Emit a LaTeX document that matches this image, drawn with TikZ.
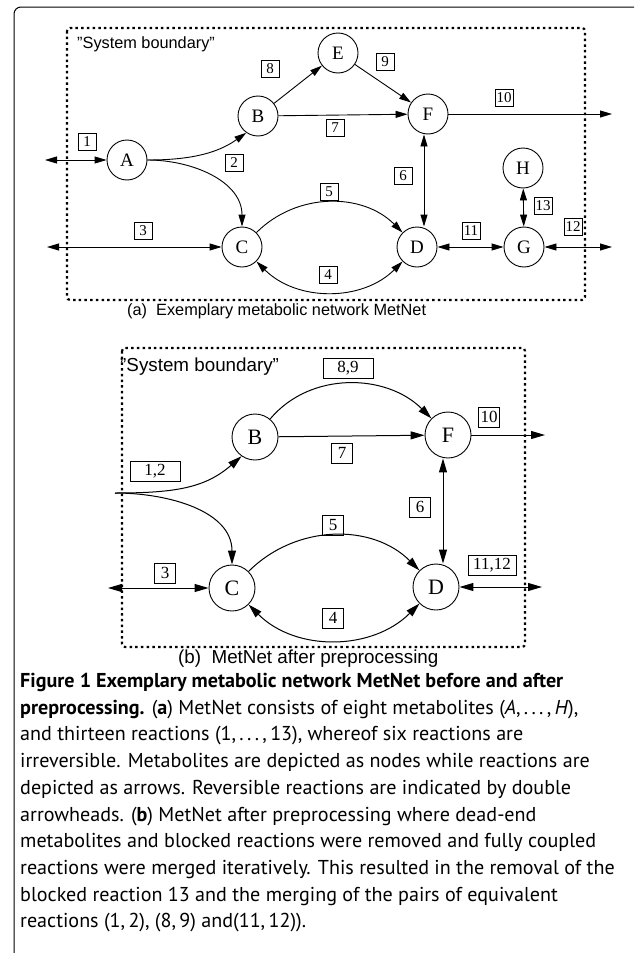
\documentclass[tikz,border=0pt]{standalone}
\usepackage{fontspec}
\setmainfont{Liberation Serif}
\setsansfont{Liberation Sans}
\newfontfamily\capfont{PT Sans}
\usetikzlibrary{arrows.meta}
\tikzset{
  met/.style={circle,draw,line width=0.9pt,minimum size=40pt,inner sep=0pt,font=\fontsize{19}{19}\selectfont},
  metb/.style={circle,draw,line width=0.9pt,minimum size=46pt,inner sep=0pt,font=\fontsize{22}{22}\selectfont},
  lab/.style={draw,line width=0.6pt,inner sep=1pt,minimum width=18pt,minimum height=17pt,font=\fontsize{15}{15}\selectfont},
  labb/.style={draw,line width=0.6pt,inner sep=1pt,minimum width=21pt,minimum height=20pt,font=\fontsize{17}{17}\selectfont},
  rx/.style={line width=0.9pt,-{Triangle[length=12pt,width=7pt]}},
  rxx/.style={line width=0.9pt,{Triangle[length=12pt,width=7pt]}-{Triangle[length=12pt,width=7pt]}},
  rxb/.style={line width=1pt,-{Triangle[length=14pt,width=8pt]}},
  rxxb/.style={line width=1pt,{Triangle[length=14pt,width=8pt]}-{Triangle[length=14pt,width=8pt]}},
  bound/.style={line width=2.2pt,dash pattern=on 2.5pt off 3.2pt,rounded corners=3pt},
  sbtext/.style={font=\sffamily\fontsize{16.3}{16.3}\selectfont,inner sep=0pt},
  sbtextb/.style={font=\sffamily\fontsize{18.8}{18.8}\selectfont,inner sep=0pt},
}
\newcommand{\dq}{\char34\relax}
\begin{document}
\begin{tikzpicture}[x=1pt,y=1pt]
\useasboundingbox (0,0) rectangle (636,-953);
% outer frame
\draw[line width=1pt,rounded corners=7pt] (634,-7) -- (14,-7) -- (14,-953);

% ---------- (a) ----------
\draw[bound] (67,-28) rectangle (585,-300);
\node[sbtext,anchor=west] (sba) at (77,-44) {\dq System boundary\dq};
\node[sbtext,anchor=west] (capa) at (127,-311) {(a)\ \ Exemplary metabolic network MetNet};

\node[met] (A) at (127,-160) {A};
\node[met] (B) at (258,-116) {B};
\node[met] (E) at (338,-53) {E};
\node[met] (F) at (428,-114) {F};
\node[met] (C) at (242,-247) {C};
\node[met] (D) at (417,-247) {D};
\node[met] (H) at (523,-168) {H};
\node[met] (G) at (524,-247) {G};

\coordinate (a1) at (45,-160);
\coordinate (a3) at (47,-247);
\coordinate (a10) at (612,-114);
\coordinate (a12) at (612,-247);

\draw[rxx] (a1) -- (A);
\draw[rxx] (a3) -- (C);
\draw[rx] (A.east) .. controls (185,-160) and (215,-155) .. (B.235);
\draw[rx] (A.east) to[out=0,in=90] (C);
\draw[rx] (B) -- (E);
\draw[rx] (E) -- (F);
\draw[rx] (B) -- (F);
\draw[rx] (F) -- (a10);
\draw[rxx] ([xshift=-4pt]F.south) -- ([xshift=7pt]D.north);
\draw[rx] (C) to[out=45,in=135] (D);
\draw[rxx] (C) to[out=-45,in=-135] (D);
\draw[rxx] (D) -- (G);
\draw[rxx] (H) -- (G);
\draw[rxx] (G) -- (a12);

\node[lab] (l1) at (87,-142) {1};
\node[lab] (l2) at (234,-163) {2};
\node[lab] (l3) at (143,-231) {3};
\node[lab] (l4) at (328,-275) {4};
\node[lab] (l5) at (329,-192) {5};
\node[lab] (l6) at (403,-176) {6};
\node[lab] (l7) at (335,-128) {7};
\node[lab] (l8) at (270,-69) {8};
\node[lab] (l9) at (385,-62) {9};
\node[lab] (l10) at (504,-98) {10};
\node[lab] (l11) at (471,-231) {11};
\node[lab] (l12) at (573,-227) {12};
\node[lab] (l13) at (543,-206) {13};

% ---------- (b) ----------
\draw[bound] (122,-348) rectangle (525,-647);
\node[sbtextb,anchor=west] (sbb) at (120,-367) {\dq System boundary\dq};
\node[sbtextb,anchor=west] (capb) at (178,-659) {(b)\ \ MetNet after preprocessing};

\node[metb] (B2) at (255,-437) {B};
\node[metb] (F2) at (448,-435) {F};
\node[metb] (C2) at (232,-588) {C};
\node[metb] (D2) at (436,-587) {D};

\coordinate (b12) at (115,-493);
\coordinate (b3) at (108,-588);
\coordinate (b10) at (545,-435);
\coordinate (b1112) at (542,-587);

\draw[rxb] (b12) .. controls (175,-493) and (205,-488) .. (B2.235);
\draw[rxb] (b12) to[out=0,in=90] (C2);
\draw[rxb] (B2) to[out=50,in=135] (F2);
\draw[rxb] (B2) -- (F2);
\draw[rxb] (F2) -- (b10);
\draw[rxxb] ([xshift=-5pt]F2.south) -- ([xshift=7pt]D2.north);
\draw[rxb] (C2) to[out=45,in=135] (D2);
\draw[rxxb] (C2) to[out=-45,in=-135] (D2);
\draw[rxxb] (b3) -- (C2);
\draw[rxxb] (D2) -- (b1112);

\node[labb,minimum width=50pt] (m12) at (155,-471) {1,2};
\node[labb,minimum width=50pt] (m89) at (348,-368) {8,9};
\node[labb] (m7) at (342,-453) {7};
\node[labb] (m10) at (489,-417) {10};
\node[labb] (m6) at (420,-507) {6};
\node[labb] (m5) at (333,-525) {5};
\node[labb] (m4) at (333,-618) {4};
\node[labb] (m3) at (165,-573) {3};
\node[labb,minimum width=48pt] (m1112) at (492,-565) {11,12};

% ---------- caption ----------
\node[anchor=north west,align=left,inner sep=0pt,font=\capfont\fontsize{20.1}{26.7}\selectfont] (cap) at (20,-673) {%
\textbf{Figure 1 Exemplary metabolic network MetNet before and after}\\
\textbf{preprocessing.} (\textbf{a}) MetNet consists of eight metabolites (\textit{A},\,.\,.\,.\,,\,\textit{H}),\\
and thirteen reactions (1,\,.\,.\,.\,,\,13), whereof six reactions are\\
irreversible. Metabolites are depicted as nodes while reactions are\\
depicted as arrows. Reversible reactions are indicated by double\\
arrowheads. (\textbf{b}) MetNet after preprocessing where dead-end\\
metabolites and blocked reactions were removed and fully coupled\\
reactions were merged iteratively. This resulted in the removal of the\\
blocked reaction 13 and the merging of the pairs of equivalent\\
reactions (1,\,2), (8,\,9) and(11,\,12)).};
\end{tikzpicture}
\end{document}
